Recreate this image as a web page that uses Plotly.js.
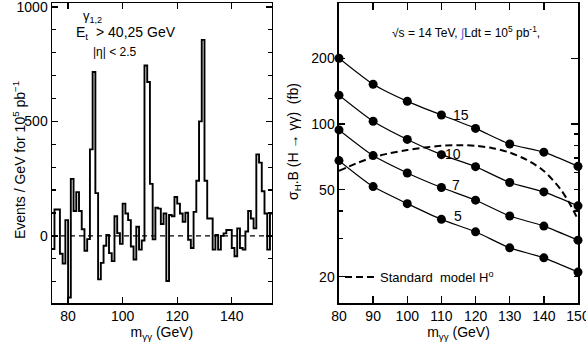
<!DOCTYPE html>
<html>
<head>
<meta charset="utf-8">
<script src="https://cdn.plot.ly/plotly-3.0.1.min.js"></script>
<style>
  html, body { margin: 0; padding: 0; background: #fff; }
  #chart { width: 586px; height: 347px; }
</style>
</head>
<body>
<div id="chart"></div>
<script>
// Left panel: background-subtracted diphoton spectrum, 1 GeV bins starting at 74 GeV
const firstBin = 74;
const eventsPerGeV = [
  -57, 115, 115, -78, -121, 69, -269, 249, 109, 191,
  109, 29, -65, -14, 378, 716, 187, -190, -118, -43,
  4, -75, -110, 86, 12, -35, 141, 98, 69, -46,
  -103, 40, -60, -20, 744, 672, 227, -15, 123, 119,
  52, 98, -197, 91, 86, 170, 141, 98, 62, 101,
  -17, -53, 105, 241, 500, 856, 241, 76, 76, -60,
  4, -60, 0, 11, 26, 26, -53, -89, 33, -53,
  -60, 19, 109, 76, 33, 356, 320, 195, 98, -60, 98
];

// Right panel: sigma_H * B(H -> gamma gamma) for the four labelled curves
const massPoints = [80, 90, 100, 110, 120, 130, 140, 150];
const sigB15 = [200, 152, 127, 110, 95.5, 81, 74.3, 64];
const sigB10 = [135.5, 103, 85, 72.4, 63.8, 54, 48.9, 42.2];
const sigB7 = [94, 71.7, 59.7, 51.2, 44.8, 37.9, 34.1, 29.4];
const sigB5 = [68, 51.7, 43.2, 36.6, 32.1, 27.1, 24.4, 21];
const curveLabels = ['15', '10', '7', '5'];

// Standard model H0 expectation (dashed)
const smMass = [80, 85, 90, 95, 100, 105, 110, 115, 120, 125, 130, 135, 140, 145, 148, 150];
const smSigB = [61, 66, 70.5, 73.5, 76, 78, 79.5, 80, 79.5, 77.5, 74, 68.5, 61, 50, 42, 36.5];

// pixel -> paper helpers (plot area 52..578 x 3..303)
const px = x => (x - 52) / 526;
const py = y => (303 - y) / 300;

// histogram outline: left edges plus closing edge
const binEdges = eventsPerGeV.map((_, i) => firstBin + i);
const stepX = binEdges.concat([firstBin + eventsPerGeV.length]);
const stepY = eventsPerGeV.concat([eventsPerGeV[eventsPerGeV.length - 1]]);

const traces = [
    {
        x: stepX, y: stepY, xaxis: 'x', yaxis: 'y',
        mode: 'lines', line: { shape: 'hv', color: '#000', width: 1.9 },
        showlegend: false, hoverinfo: 'skip'
    }
];

[sigB15, sigB10, sigB7, sigB5].forEach((vals, i) => {
    traces.push({
        x: massPoints, y: vals, xaxis: 'x2', yaxis: 'y2',
        name: curveLabels[i],
        mode: 'lines+markers',
        line: { color: '#000', width: 1.2, shape: 'spline', smoothing: 0.6 },
        marker: { color: '#000', size: 9 },
        cliponaxis: false, showlegend: false
    });
});

traces.push({
    x: smMass, y: smSigB, xaxis: 'x2', yaxis: 'y3',
    name: 'Standard&nbsp; model H<sup>o</sup>',
    mode: 'lines',
    line: { color: '#000', width: 2, dash: '7px,4px', shape: 'spline', smoothing: 0.8 },
    showlegend: true
});

const frame = { showline: true, linecolor: '#000', linewidth: 1.5, showgrid: false, zeroline: false,
                ticks: 'inside', tickcolor: '#000', tickwidth: 1.3, ticklabeloverflow: 'allow' };
const titleFont = { size: 14, color: '#000' };

const layout = {
    width: 586, height: 347,
    margin: { l: 52, r: 8, t: 3, b: 44 },
    paper_bgcolor: '#fff', plot_bgcolor: '#fff',
    font: { family: 'Liberation Sans, Arial, sans-serif', size: 14, color: '#000' },
    showlegend: true,
    legend: { x: px(340), y: py(277), xanchor: 'left', yanchor: 'middle',
              bgcolor: 'rgba(0,0,0,0)', font: { size: 13 } },
    xaxis: Object.assign({}, frame, {
        domain: [0, 0.418], anchor: 'y', range: [74.1, 154.7],
        tickvals: [80, 100, 120, 140], ticklen: 6, mirror: 'ticks',
        title: { text: 'm<sub>γγ</sub> (GeV)', font: titleFont, standoff: 2 }
    }),
    yaxis: Object.assign({}, frame, {
        domain: [0, 1], anchor: 'x', range: [-293, 1017],
        tickvals: [0, 500, 1000], ticklen: 6, mirror: 'ticks',
        minor: { dtick: 100, ticklen: 4, ticks: 'inside', tickcolor: '#000', showgrid: false }
    }),
    xaxis2: Object.assign({}, frame, {
        domain: [0.5456, 1], anchor: 'y2', range: [80, 150],
        dtick: 10, ticklen: 7, mirror: 'ticks',
        title: { text: 'm<sub>γγ</sub> (GeV)', font: titleFont, standoff: 2 }
    }),
    yaxis2: Object.assign({}, frame, {
        domain: [0, 1], anchor: 'x2', type: 'log', range: [1.1806, 2.554],
        tickvals: [20, 50, 100, 200], ticktext: ['20', '50', '100', '200'], ticklen: 6, mirror: true,
        minor: { tickvals: [30, 40], ticklen: 4, ticks: 'inside', tickcolor: '#000', showgrid: false }
    }),
    yaxis3: Object.assign({}, frame, {
        overlaying: 'y2', side: 'right', anchor: 'x2', type: 'log', range: [1.1806, 2.554],
        showline: false, showticklabels: false, tickvals: [100, 200], ticklen: 7,
        minor: { tickvals: [20, 30, 40, 50, 60, 70, 80, 90], ticklen: 4, ticks: 'inside', tickcolor: '#000', showgrid: false }
    }),
    shapes: [
        { type: 'line', xref: 'x domain', yref: 'y', x0: 0, x1: 1, y0: 0, y1: 0,
          line: { color: '#000', width: 1.2, dash: '5px,4px' } }
    ],
    annotations: [
        { text: 'E<sub>t</sub>', x: px(74), y: py(33), xanchor: 'left', yanchor: 'middle', font: { size: 14 } },
        { text: 'γ<sub>1,2</sub>', x: px(81), y: py(16), xanchor: 'left', yanchor: 'middle', font: { size: 13 } },
        { text: '> 40,25 GeV', x: px(178), y: py(32), xanchor: 'right', yanchor: 'middle', font: { size: 14 } },
        { text: '|η| < 2.5', x: px(115), y: py(52), xanchor: 'center', yanchor: 'middle', font: { size: 12 } },
        { text: 'Events / GeV for 10<sup>5</sup> pb<sup>−1</sup>', x: px(19), y: py(160), textangle: -90,
          xanchor: 'center', yanchor: 'middle', font: { size: 14 } },
        { text: 'σ<sub>H</sub>.B (H → γγ)&nbsp; (fb)', x: px(294), y: py(142), textangle: -90,
          xanchor: 'center', yanchor: 'middle', font: { size: 14 } },
        { text: '√s = 14 TeV, <span style="color:#5b5bd6">∫</span>Ldt = 10<sup>5</sup> pb<sup>-1</sup>,',
          x: px(466), y: py(32), xanchor: 'center', yanchor: 'middle', font: { size: 12 } },
        { text: curveLabels[0], x: px(461), y: py(115), xanchor: 'center', yanchor: 'middle' },
        { text: curveLabels[1], x: px(453), y: py(154), xanchor: 'center', yanchor: 'middle' },
        { text: curveLabels[2], x: px(456), y: py(185), xanchor: 'center', yanchor: 'middle' },
        { text: curveLabels[3], x: px(458), y: py(216), xanchor: 'center', yanchor: 'middle' }
    ].map(a => Object.assign({ xref: 'paper', yref: 'paper', showarrow: false }, a))
};

Plotly.newPlot('chart', traces, layout, { displayModeBar: false, staticPlot: true });
</script>
</body>
</html>
